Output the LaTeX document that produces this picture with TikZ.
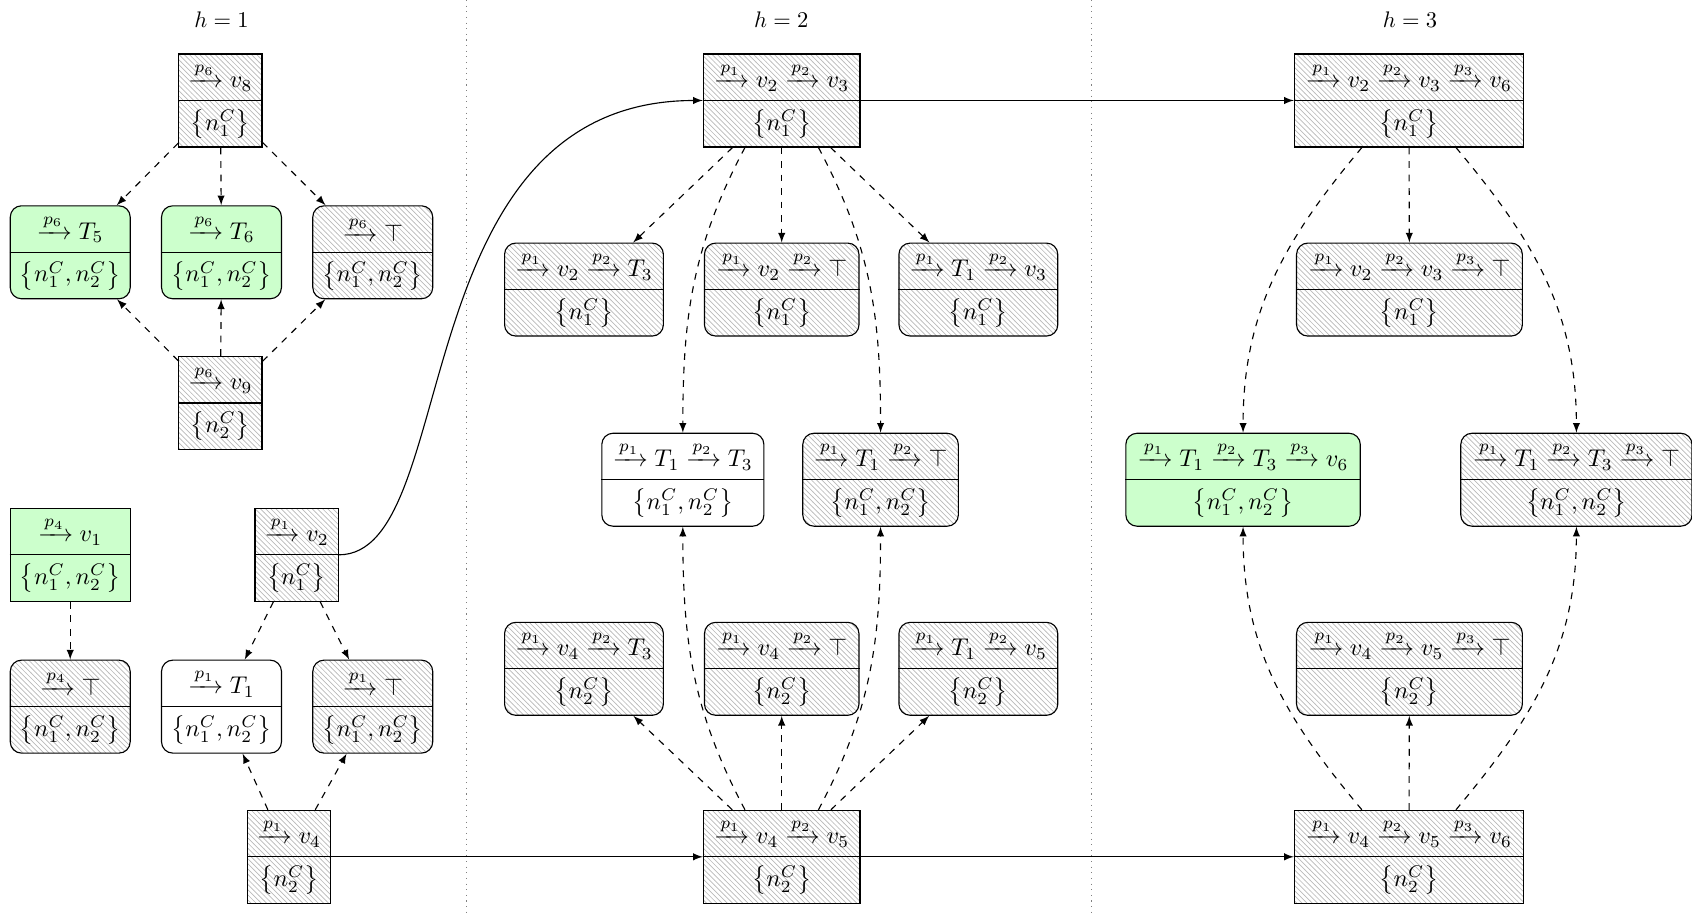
\documentclass[tikz,border=0pt]{standalone}
\usepackage{amsmath}
\usetikzlibrary{patterns,arrows,calc}
\pgfdeclarepatternformonly{densenw}{\pgfqpoint{-1pt}{-1pt}}{\pgfqpoint{3.3pt}{3.3pt}}{\pgfqpoint{2.3pt}{2.3pt}}{%
  \pgfsetlinewidth{0.3pt}%
  \pgfpathmoveto{\pgfqpoint{0pt}{2.3pt}}%
  \pgfpathlineto{\pgfqpoint{2.4pt}{-0.1pt}}%
  \pgfusepath{stroke}}
\tikzset{
  box/.style={draw, line width=0.5pt, minimum height=41.3pt, inner sep=0pt},
  sq/.style={box},
  rd/.style={box, rounded corners=5pt},
  hatch/.style={pattern=densenw, pattern color=gray!55},
  grn/.style={fill=green!20},
  wht/.style={fill=white},
  lbl/.style={inner sep=0pt, scale=1.075},
  dep/.style={-latex, dashed, line width=0.5pt},
  sol/.style={-latex, line width=0.5pt},
  sep/.style={dotted, gray, line width=0.5pt},
}
\newcommand\cell[7]{%
  \node[#1, minimum width={#5*0.48pt}] (#2) at (#3,#4) {};
  \draw[line width=0.5pt] (#2.west) -- (#2.east);
  \node[lbl] (#2t) at ($(#2.center)!0.5!(#2.north)$) {$#6$};
  \node[lbl] (#2b) at ($(#2.center)!0.5!(#2.south)$) {$#7$};
}
\newcommand\nA{\left\{n_1^C\right\}}
\newcommand\nB{\left\{n_2^C\right\}}
\newcommand\nAB{\left\{n_1^C, n_2^C\right\}}
\begin{document}
\begin{tikzpicture}[x=0.48pt, y=0.48pt]
\useasboundingbox (0,0) rectangle (1566,-848);
% titles
\node (h1) at (205,-18) {$h=1$};
\node (h2) at (723,-18) {$h=2$};
\node (h3) at (1305,-18) {$h=3$};
\draw[sep] (432,0) -- (432,-848);
\draw[sep] (1010,0) -- (1010,-848);
% column 1
\cell{sq,hatch}{v8}{204}{-93}{77}{\xrightarrow{p_6} v_8}{\nA}
\cell{rd,grn}{t5}{65}{-233.5}{111}{\xrightarrow{p_6} T_5}{\nAB}
\cell{rd,grn}{t6}{205}{-233.5}{111}{\xrightarrow{p_6} T_6}{\nAB}
\cell{rd,hatch}{tp6}{345}{-233.5}{111}{\xrightarrow{p_6} \top}{\nAB}
\cell{sq,hatch}{v9}{204}{-373}{77}{\xrightarrow{p_6} v_9}{\nB}
\cell{sq,grn}{v1}{65}{-513.5}{111}{\xrightarrow{p_4} v_1}{\nAB}
\cell{rd,hatch}{tp4}{65}{-654}{111}{\xrightarrow{p_4} \top}{\nAB}
\cell{sq,hatch}{v2}{274.5}{-513.5}{77}{\xrightarrow{p_1} v_2}{\nA}
\cell{rd,wht}{t1}{205}{-654}{111}{\xrightarrow{p_1} T_1}{\nAB}
\cell{rd,hatch}{tp1}{345}{-654}{111}{\xrightarrow{p_1} \top}{\nAB}
\cell{sq,hatch}{v4}{267.5}{-793}{77}{\xrightarrow{p_1} v_4}{\nB}
% column 2
\cell{sq,hatch}{A}{723.5}{-93}{145}{\xrightarrow{p_1} v_2 \xrightarrow{p_2} v_3}{\nA}
\cell{rd,hatch}{ra}{540.5}{-268}{147}{\xrightarrow{p_1} v_2 \xrightarrow{p_2} T_3}{\nA}
\cell{rd,hatch}{rb}{723.5}{-268}{143}{\xrightarrow{p_1} v_2 \xrightarrow{p_2} \top}{\nA}
\cell{rd,hatch}{rc}{905.5}{-268}{147}{\xrightarrow{p_1} T_1 \xrightarrow{p_2} v_3}{\nA}
\cell{rd,wht}{sa}{632}{-444}{150}{\xrightarrow{p_1} T_1 \xrightarrow{p_2} T_3}{\nAB}
\cell{rd,hatch}{sb}{815}{-444}{144}{\xrightarrow{p_1} T_1 \xrightarrow{p_2} \top}{\nAB}
\cell{rd,hatch}{ua}{540.5}{-619}{147}{\xrightarrow{p_1} v_4 \xrightarrow{p_2} T_3}{\nB}
\cell{rd,hatch}{ub}{723.5}{-619}{143}{\xrightarrow{p_1} v_4 \xrightarrow{p_2} \top}{\nB}
\cell{rd,hatch}{uc}{905.5}{-619}{147}{\xrightarrow{p_1} T_1 \xrightarrow{p_2} v_5}{\nB}
\cell{sq,hatch}{B}{723.5}{-793}{145}{\xrightarrow{p_1} v_4 \xrightarrow{p_2} v_5}{\nB}
% column 3
\cell{sq,hatch}{C}{1304}{-93}{212}{\xrightarrow{p_1} v_2 \xrightarrow{p_2} v_3 \xrightarrow{p_3} v_6}{\nA}
\cell{rd,hatch}{m1}{1304.5}{-268}{209}{\xrightarrow{p_1} v_2 \xrightarrow{p_2} v_3 \xrightarrow{p_3} \top}{\nA}
\cell{rd,grn}{g}{1150.5}{-444}{217}{\xrightarrow{p_1} T_1 \xrightarrow{p_2} T_3 \xrightarrow{p_3} v_6}{\nAB}
\cell{rd,hatch}{rr}{1459}{-444}{214}{\xrightarrow{p_1} T_1 \xrightarrow{p_2} T_3 \xrightarrow{p_3} \top}{\nAB}
\cell{rd,hatch}{m2}{1304.5}{-619}{209}{\xrightarrow{p_1} v_4 \xrightarrow{p_2} v_5 \xrightarrow{p_3} \top}{\nB}
\cell{sq,hatch}{D}{1304}{-793}{212}{\xrightarrow{p_1} v_4 \xrightarrow{p_2} v_5 \xrightarrow{p_3} v_6}{\nB}
% column 1 edges
\draw[dep] (v8) -- (t5);
\draw[dep] (v8) -- (t6);
\draw[dep] (v8) -- (tp6);
\draw[dep] (v9) -- (t5);
\draw[dep] (v9) -- (t6);
\draw[dep] (v9) -- (tp6);
\draw[dep] (v1) -- (tp4);
\draw[dep] (v2) -- (t1);
\draw[dep] (v2) -- (tp1);
\draw[dep] (v4) -- (t1);
\draw[dep] (v4) -- (tp1);
% column 2 edges
\draw[dep] (A) -- (ra);
\draw[dep] (A) -- (rb);
\draw[dep] (A) -- (rc);
\draw[dep] (A.-128) to[out=-118,in=90] (sa);
\draw[dep] (A.-52) to[out=-62,in=90] (sb);
\draw[dep] (B) -- (ua);
\draw[dep] (B) -- (ub);
\draw[dep] (B) -- (uc);
\draw[dep] (B.128) to[out=118,in=-90] (sa);
\draw[dep] (B.52) to[out=62,in=-90] (sb);
% column 3 edges
\draw[dep] (C) -- (m1);
\draw[dep] (C.-135) to[out=-130,in=90] (g);
\draw[dep] (C.-45) to[out=-50,in=90] (rr);
\draw[dep] (D) -- (m2);
\draw[dep] (D.135) to[out=130,in=-90] (g);
\draw[dep] (D.45) to[out=50,in=-90] (rr);
% solid edges
\draw[sol] (v2.east) .. controls +(115,0) and +(-280,0) .. (A.west);
\draw[sol] (A.east) -- (C.west);
\draw[sol] (v4.east) -- (B.west);
\draw[sol] (B.east) -- (D.west);
\end{tikzpicture}
\end{document}
